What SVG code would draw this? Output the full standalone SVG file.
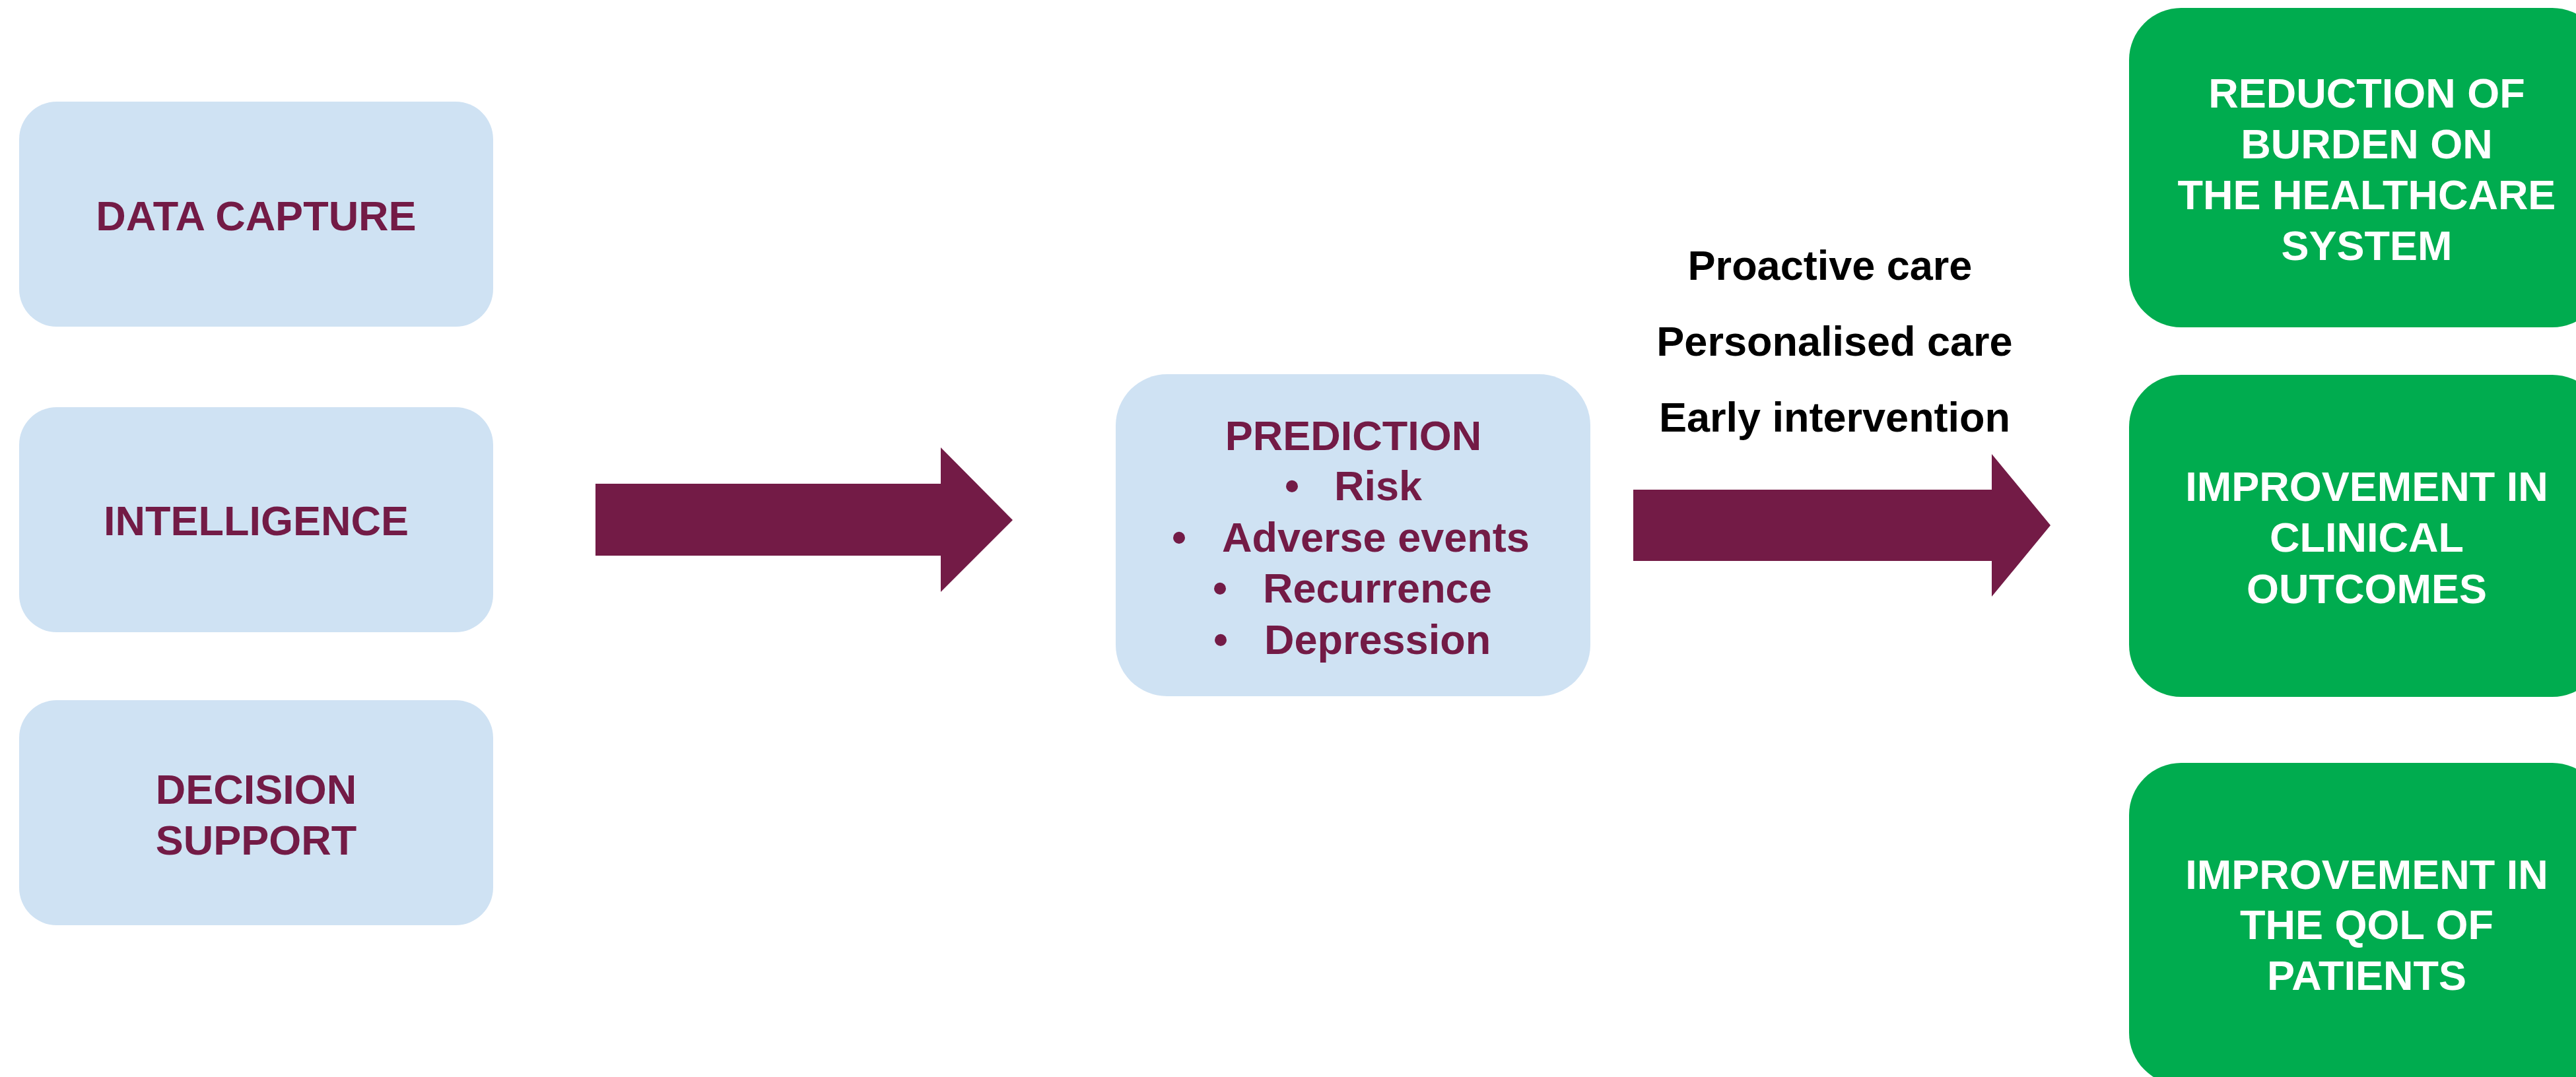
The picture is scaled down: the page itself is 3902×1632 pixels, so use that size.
<svg xmlns="http://www.w3.org/2000/svg" width="3902" height="1632" viewBox="0 0 3902 1632">
  <style>
    .blue { fill: #CFE2F3; }
    .green { fill: #00AC4F; }
    .arrow { fill: #731B46; }
    .t { font-family: "Liberation Sans", Arial, sans-serif; font-weight: bold; font-size: 63px; }
    .m { fill: #731B46; }
    .w { fill: #FFFFFF; }
    .k { fill: #000000; }
  </style>
  <rect x="0" y="0" width="3902" height="1632" fill="#FFFFFF"/>

  <g id="data-capture">
    <rect class="blue" x="29" y="154" width="718" height="341" rx="57" ry="57"/>
    <text class="t m" x="388" y="349" text-anchor="middle">DATA CAPTURE</text>
  </g>
  <g id="intelligence">
    <rect class="blue" x="29" y="617" width="718" height="341" rx="57" ry="57"/>
    <text class="t m" x="388" y="811" text-anchor="middle">INTELLIGENCE</text>
  </g>
  <g id="decision-support">
    <rect class="blue" x="29" y="1061" width="718" height="341" rx="57" ry="57"/>
    <text class="t m" x="388" y="1218" text-anchor="middle">DECISION</text>
    <text class="t m" x="388" y="1295" text-anchor="middle">SUPPORT</text>
  </g>

  <g id="prediction">
    <rect class="blue" x="1690" y="567" width="719" height="488" rx="78" ry="78"/>
    <text class="t m" x="2050" y="682" text-anchor="middle">PREDICTION</text>
    <text class="t m" x="1957" y="758" text-anchor="middle">•</text>
    <text class="t m" x="2021" y="758">Risk</text>
    <text class="t m" x="1786" y="836" text-anchor="middle">•</text>
    <text class="t m" x="1851" y="836">Adverse events</text>
    <text class="t m" x="1848" y="913" text-anchor="middle">•</text>
    <text class="t m" x="1913" y="913">Recurrence</text>
    <text class="t m" x="1849" y="991" text-anchor="middle">•</text>
    <text class="t m" x="1915" y="991">Depression</text>
  </g>

  <g id="outcome-burden">
    <rect class="green" x="3225" y="12" width="720" height="484" rx="79" ry="79"/>
    <text class="t w" x="3585" y="163" text-anchor="middle">REDUCTION OF</text>
    <text class="t w" x="3585" y="240" text-anchor="middle">BURDEN ON</text>
    <text class="t w" x="3585" y="317" text-anchor="middle">THE HEALTHCARE</text>
    <text class="t w" x="3585" y="394" text-anchor="middle">SYSTEM</text>
  </g>
  <g id="outcome-clinical">
    <rect class="green" x="3225" y="568" width="720" height="488" rx="79" ry="79"/>
    <text class="t w" x="3585" y="759" text-anchor="middle">IMPROVEMENT IN</text>
    <text class="t w" x="3585" y="836" text-anchor="middle">CLINICAL</text>
    <text class="t w" x="3585" y="914" text-anchor="middle">OUTCOMES</text>
  </g>
  <g id="outcome-qol">
    <rect class="green" x="3225" y="1156" width="720" height="488" rx="79" ry="79"/>
    <text class="t w" x="3585" y="1347" text-anchor="middle">IMPROVEMENT IN</text>
    <text class="t w" x="3585" y="1423" text-anchor="middle">THE QOL OF</text>
    <text class="t w" x="3585" y="1500" text-anchor="middle">PATIENTS</text>
  </g>

  <g id="care-labels">
    <text class="t k" x="2772" y="424" text-anchor="middle">Proactive care</text>
    <text class="t k" x="2779" y="539" text-anchor="middle">Personalised care</text>
    <text class="t k" x="2779" y="654" text-anchor="middle">Early intervention</text>
  </g>

  <g id="connectors">
    <polygon class="arrow" points="902,733 1425,733 1425,678 1534,788 1425,897 1425,842 902,842"/>
    <polygon class="arrow" points="2474,742 3017,742 3017,688 3106,796 3017,904 3017,850 2474,850"/>
  </g>
</svg>
